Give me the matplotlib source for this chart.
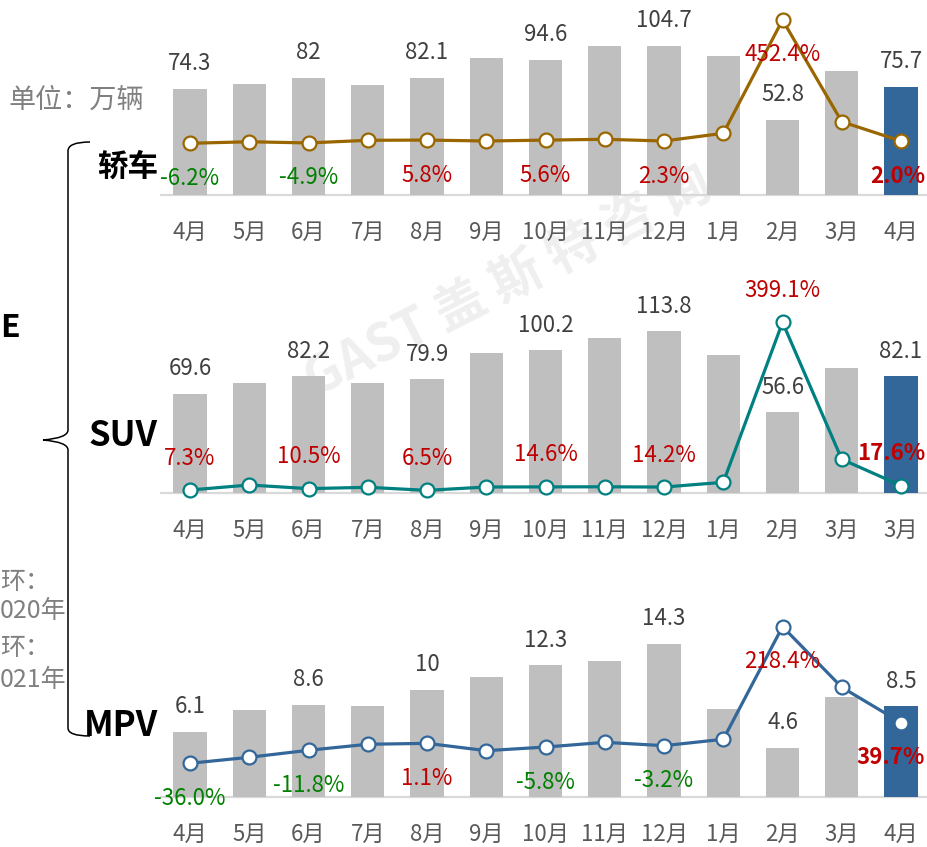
import matplotlib
matplotlib.use('Agg')
import matplotlib.pyplot as plt
from matplotlib.path import Path
from matplotlib.patches import PathPatch

plt.rcParams['font.family'] = ['Noto Sans CJK SC', 'DejaVu Sans']

months = ['4月', '5月', '6月', '7月', '8月', '9月', '10月', '11月', '12月',
          '1月', '2月', '3月', '4月']
months_suv = months[:-1] + ['3月']

sedan = [74.3, 77.8, 82, 77.1, 82.1, 96.0, 94.6, 104.2, 104.7, 97.4, 52.8, 87.1, 75.7]
sedan_rate = [-6.2, -0.5, -4.9, 4.9, 5.8, 2.3, 5.6, 8.7, 2.3, 31.0, 452.4, 74.0, 2.0]

suv = [69.6, 77.5, 82.2, 77.1, 79.9, 98.2, 100.2, 108.9, 113.8, 97.0, 56.6, 87.6, 82.1]
suv_rate = [7.3, 19.0, 10.5, 13.6, 6.5, 14.3, 14.6, 14.8, 14.2, 25.3, 399.1, 79.0, 17.6]

mpv = [6.1, 8.1, 8.6, 8.5, 10, 11.2, 12.3, 12.7, 14.3, 8.2, 4.6, 9.3, 8.5]
mpv_rate = [-36.0, -24.8, -11.8, -0.6, 1.1, -12.5, -5.8, 3.0, -3.2, 8.7, 218.4, 105.5, 39.7]

W, H = 928, 847
GRAY = '#BFBFBF'
BLUE = '#336699'
NUM_FS = 16

fig = plt.figure(figsize=(W / 100, H / 100), dpi=100)

# background axes in pixel coordinates (brace, side texts, watermark)
bg = fig.add_axes([0, 0, 1, 1], zorder=-1)
bg.set_xlim(0, W)
bg.set_ylim(H, 0)
bg.axis('off')

bg.text(508, 282, 'GAST 盖 斯 特 咨 询', fontsize=37, fontweight='bold',
        color='#EFEFEF', rotation=27, ha='center', va='center')

verts = [(90, 142), (68, 142), (68, 151),
         (68, 430), (68, 438), (43, 440),
         (68, 442), (68, 450),
         (68, 728), (68, 736), (90, 736)]
codes = [Path.MOVETO, Path.CURVE3, Path.CURVE3,
         Path.LINETO, Path.CURVE3, Path.CURVE3,
         Path.CURVE3, Path.CURVE3,
         Path.LINETO, Path.CURVE3, Path.CURVE3]
bg.add_patch(PathPatch(Path(verts, codes), fill=False, lw=1.1, ec='black'))

side = '#808080'
bg.text(9, 100, '单位：万辆', fontsize=19.5, color=side, ha='left', va='center')
bg.text(0, 328, 'E', fontsize=23, fontweight='bold', color='black', ha='left', va='center')
bg.text(0, 582, '环：', fontsize=18, color=side, ha='left', va='center')
bg.text(0, 611, '020年', fontsize=18, color=side, ha='left', va='center')
bg.text(0, 648, '环：', fontsize=18, color=side, ha='left', va='center')
bg.text(0, 680, '021年', fontsize=18, color=side, ha='left', va='center')

panels = [
    dict(name='轿车', fs=22, vals=sedan, rates=sedan_rate, labels=months, color='#996600',
         top=10, base=195, ymax=129.6, rlim=(-198.5, 489.5), roff=-35, ty=167),
    dict(name='SUV', fs=25, vals=suv, rates=suv_rate, labels=months_suv, color='#008080',
         top=280, base=493, ymax=149.7, rlim=(0.3, 497.9), roff=32, ty=435),
    dict(name='MPV', fs=25, vals=mpv, rates=mpv_rate, labels=months, color=BLUE,
         top=580, base=797, ymax=20.28, rlim=(-98.8, 305.3), roff=-35, ty=725),
]

x_left, x_right = 161, 928
x = list(range(len(months)))

for p in panels:
    rect = [x_left / W, 1 - p['base'] / H, (x_right - x_left) / W, (p['base'] - p['top']) / H]
    ax = fig.add_axes(rect)
    ax.patch.set_alpha(0)
    colors = [GRAY] * (len(x) - 1) + [BLUE]
    ax.bar(x, p['vals'], width=0.56, color=colors, zorder=2)
    ax.set_xlim(-0.49, 12.455)
    ax.set_ylim(0, p['ymax'])
    for s in ['top', 'right', 'left']:
        ax.spines[s].set_visible(False)
    ax.spines['bottom'].set_color('#D9D9D9')
    ax.spines['bottom'].set_linewidth(1.6)
    ax.spines['bottom'].set_zorder(1)
    ax.set_xticks([])
    ax.set_yticks([])
    for i, lab in enumerate(p['labels']):
        ax.annotate(lab, (i, 0), xytext=(0, -37), textcoords='offset pixels',
                    ha='center', va='center', fontsize=NUM_FS, color='#595959',
                    annotation_clip=False)
    for i in range(0, len(x), 2):
        ax.annotate(f"{p['vals'][i]:g}", (i, p['vals'][i]), xytext=(0, 25),
                    textcoords='offset pixels', ha='center', va='center',
                    fontsize=NUM_FS, color='#404040', annotation_clip=False)

    ax2 = ax.twinx()
    ax2.patch.set_alpha(0)
    ax2.plot(x, p['rates'], color=p['color'], lw=2.3, marker='o', ms=10,
             mfc='white', mec=p['color'], mew=1.6, zorder=3, clip_on=False)
    ax2.set_ylim(*p['rlim'])
    ax2.axis('off')
    for i in range(0, len(x), 2):
        r = p['rates'][i]
        last = i == len(x) - 1
        ax2.annotate(f"{r:.1f}%", (i, r),
                     xytext=(24 if last else 0, p['roff']),
                     textcoords='offset pixels',
                     ha='right' if last else 'center', va='center',
                     fontsize=NUM_FS, color='#008000' if r < 0 else '#C00000',
                     fontweight='bold' if last else 'normal',
                     annotation_clip=False, zorder=4)

    bg.text(158, p['ty'], p['name'], fontsize=p['fs'], fontweight='bold',
            color='black', ha='right', va='center')

fig.savefig('out.png', dpi=100)
